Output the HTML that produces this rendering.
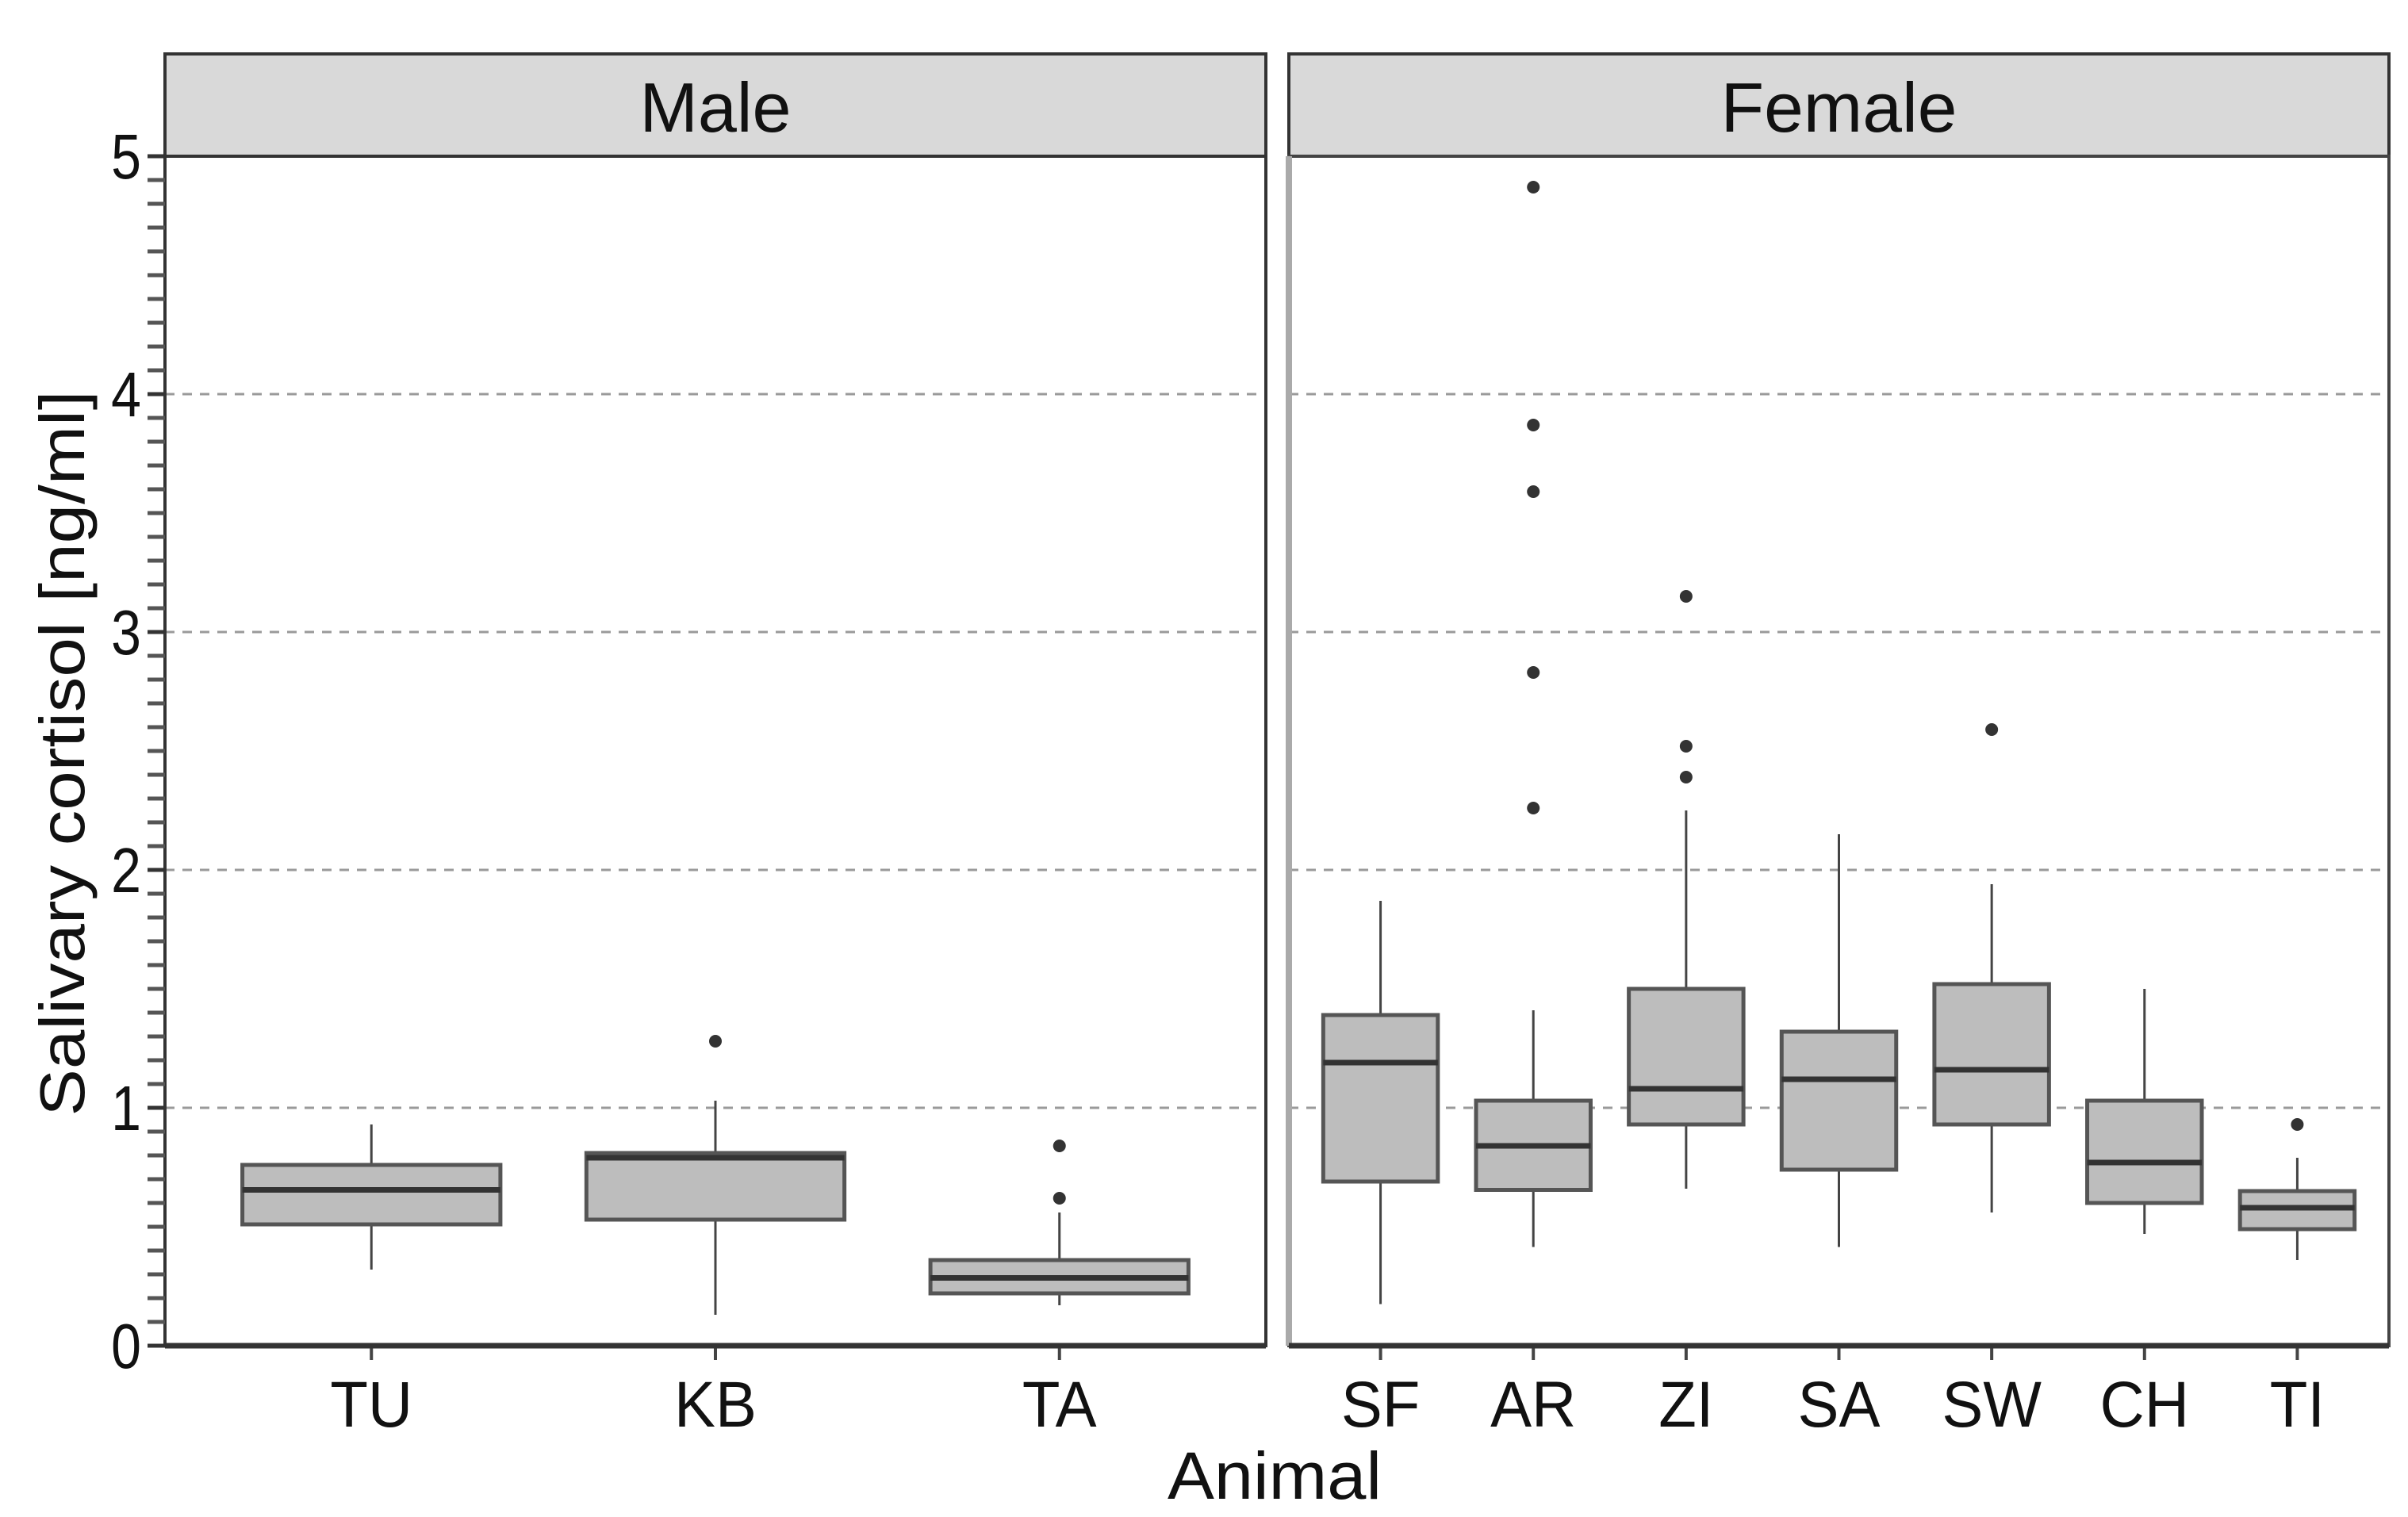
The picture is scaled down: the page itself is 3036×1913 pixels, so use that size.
<!DOCTYPE html>
<html><head><meta charset="utf-8">
<style>
html,body{margin:0;padding:0;background:#fff;}
svg{display:block;font-family:"Liberation Sans",Arial,sans-serif;}
</style></head>
<body>
<svg id="chart" width="3036" height="1913" viewBox="0 0 3036 1913" xmlns="http://www.w3.org/2000/svg">
<g id="layer"></g>
</svg>
<script>
const maleCats = ["TU","KB","TA"];
const femaleCats = ["SF","AR","ZI","SA","SW","CH","TI"];
const maleLow = [0.32,0.13,0.17];
const maleQ1 = [0.51,0.53,0.22];
const maleMed = [0.655,0.79,0.285];
const maleQ3 = [0.76,0.81,0.36];
const maleHigh = [0.93,1.03,0.56];
const maleOutliers = [[],[1.28],[0.84,0.62]];
const femaleLow = [0.175,0.415,0.66,0.415,0.56,0.47,0.36];
const femaleQ1 = [0.69,0.655,0.93,0.74,0.93,0.60,0.49];
const femaleMed = [1.19,0.84,1.08,1.12,1.16,0.77,0.58];
const femaleQ3 = [1.39,1.03,1.50,1.32,1.52,1.03,0.65];
const femaleHigh = [1.87,1.41,2.25,2.15,1.94,1.50,0.79];
const femaleOutliers = [[],[4.87,3.87,3.59,2.83,2.26],[3.15,2.52,2.39],[],[2.59],[],[0.93]];
const yTicks = [0,1,2,3,4,5];
const panelTitles = ["Male","Female"];

const NS = "http://www.w3.org/2000/svg";
const layer = document.getElementById('layer');
const Y0 = 1697, Y5 = 197;
function y(v){ return Y0 - (Y0 - Y5) * v / 5; }
function mk(tag, attrs, parent){
  const e = document.createElementNS(NS, tag);
  for (const k in attrs) e.setAttribute(k, attrs[k]);
  (parent || layer).appendChild(e);
  return e;
}
const panels = [
  {x0:208, x1:1596, tw:191, cats:maleCats, low:maleLow, q1:maleQ1, med:maleMed, q3:maleQ3, high:maleHigh, out:maleOutliers},
  {x0:1625, x1:3012, tw:298, cats:femaleCats, low:femaleLow, q1:femaleQ1, med:femaleMed, q3:femaleQ3, high:femaleHigh, out:femaleOutliers}
];
panels.forEach((p, pi) => {
  const n = p.cats.length;
  const unit = (p.x1 - p.x0) / (n + 0.2);
  const xc = i => p.x0 + unit * (0.6 + i);
  const g = mk('g', {});
  
  
  const strip = mk('rect', {x:p.x0, y:68, width:p.x1-p.x0, height:129, fill:'#d9d9d9', stroke:'#333', 'stroke-width':4}, g);
  
  
  const st = mk('text', {x:(p.x0+p.x1)/2, y:166, 'text-anchor':'middle', 'font-size':88, fill:'#111', textLength:p.tw, lengthAdjust:'spacingAndGlyphs'}, g);
  st.textContent = panelTitles[pi];
  
  
  yTicks.forEach(t => {
    if (t > 0 && t < 5) {
      const gl = mk('line', {x1:p.x0, x2:p.x1, y1:y(t), y2:y(t), stroke:'#9a9a9a', 'stroke-width':3, 'stroke-dasharray':'12 10'}, g);
      
      
    }
  });
  p.cats.forEach((c, i) => {
    const cx = xc(i), bw = unit * 0.75;
    const bg = mk('g', {}, g);
    
    
    mk('line', {x1:cx, x2:cx, y1:y(p.high[i]), y2:y(p.q3[i]), stroke:'#444', 'stroke-width':3}, bg);
    mk('line', {x1:cx, x2:cx, y1:y(p.q1[i]), y2:y(p.low[i]), stroke:'#444', 'stroke-width':3}, bg);
    mk('rect', {x:cx-bw/2, y:y(p.q3[i]), width:bw, height:y(p.q1[i])-y(p.q3[i]), fill:'#bdbdbd', stroke:'#555', 'stroke-width':5}, bg);
    mk('line', {x1:cx-bw/2, x2:cx+bw/2, y1:y(p.med[i]), y2:y(p.med[i]), stroke:'#333', 'stroke-width':7}, bg);
    p.out[i].forEach(v => {
      const o = mk('circle', {cx:cx, cy:y(v), r:8, fill:'#333'}, bg);
      
      
    });
    mk('line', {x1:cx, x2:cx, y1:Y0, y2:Y0+18, stroke:'#444', 'stroke-width':4}, g);
    const lt = mk('text', {x:cx, y:1799, 'text-anchor':'middle', 'font-size':82, fill:'#111', transform:`translate(${cx} 0) scale(0.95 1) translate(${-cx} 0)`}, g);
    lt.textContent = c;
    
    
  });
  const pb = mk('rect', {x:p.x0, y:197, width:p.x1-p.x0, height:Y0-197, fill:'none', stroke: pi===0?'#333':'#444', 'stroke-width':4}, g);
  
  
  if (pi === 1) mk('line', {x1:p.x0, x2:p.x0, y1:197, y2:Y0, stroke:'#aaa', 'stroke-width':8}, g);
  mk('line', {x1:p.x0, x2:p.x1, y1:Y0, y2:Y0, stroke:'#333', 'stroke-width':7}, g);
});
for (let k = 0; k <= 50; k++) {
  const v = k / 10;
  const tk = mk('line', {x1:186, x2:208, y1:y(v), y2:y(v), stroke: k % 10 === 0 ? '#333' : '#555', 'stroke-width':5});
  
  
}
yTicks.forEach(t => {
  const tl = mk('text', {x:178, y:y(t)+28, 'text-anchor':'end', 'font-size':80, fill:'#111', transform:`translate(178 0) scale(0.85 1) translate(-178 0)`});
  tl.textContent = String(t);
  
  
});
const yt = mk('text', {x:0, y:0, 'text-anchor':'middle', 'font-size':80, fill:'#111', textLength:915, lengthAdjust:'spacingAndGlyphs', transform:'translate(106,950) rotate(-90)'});
yt.textContent = 'Salivary cortisol [ng/ml]';


const xt = mk('text', {x:1607, y:1890, 'text-anchor':'middle', 'font-size':84, fill:'#111', textLength:270, lengthAdjust:'spacingAndGlyphs'});
xt.textContent = 'Animal';


</script>
</body></html>
